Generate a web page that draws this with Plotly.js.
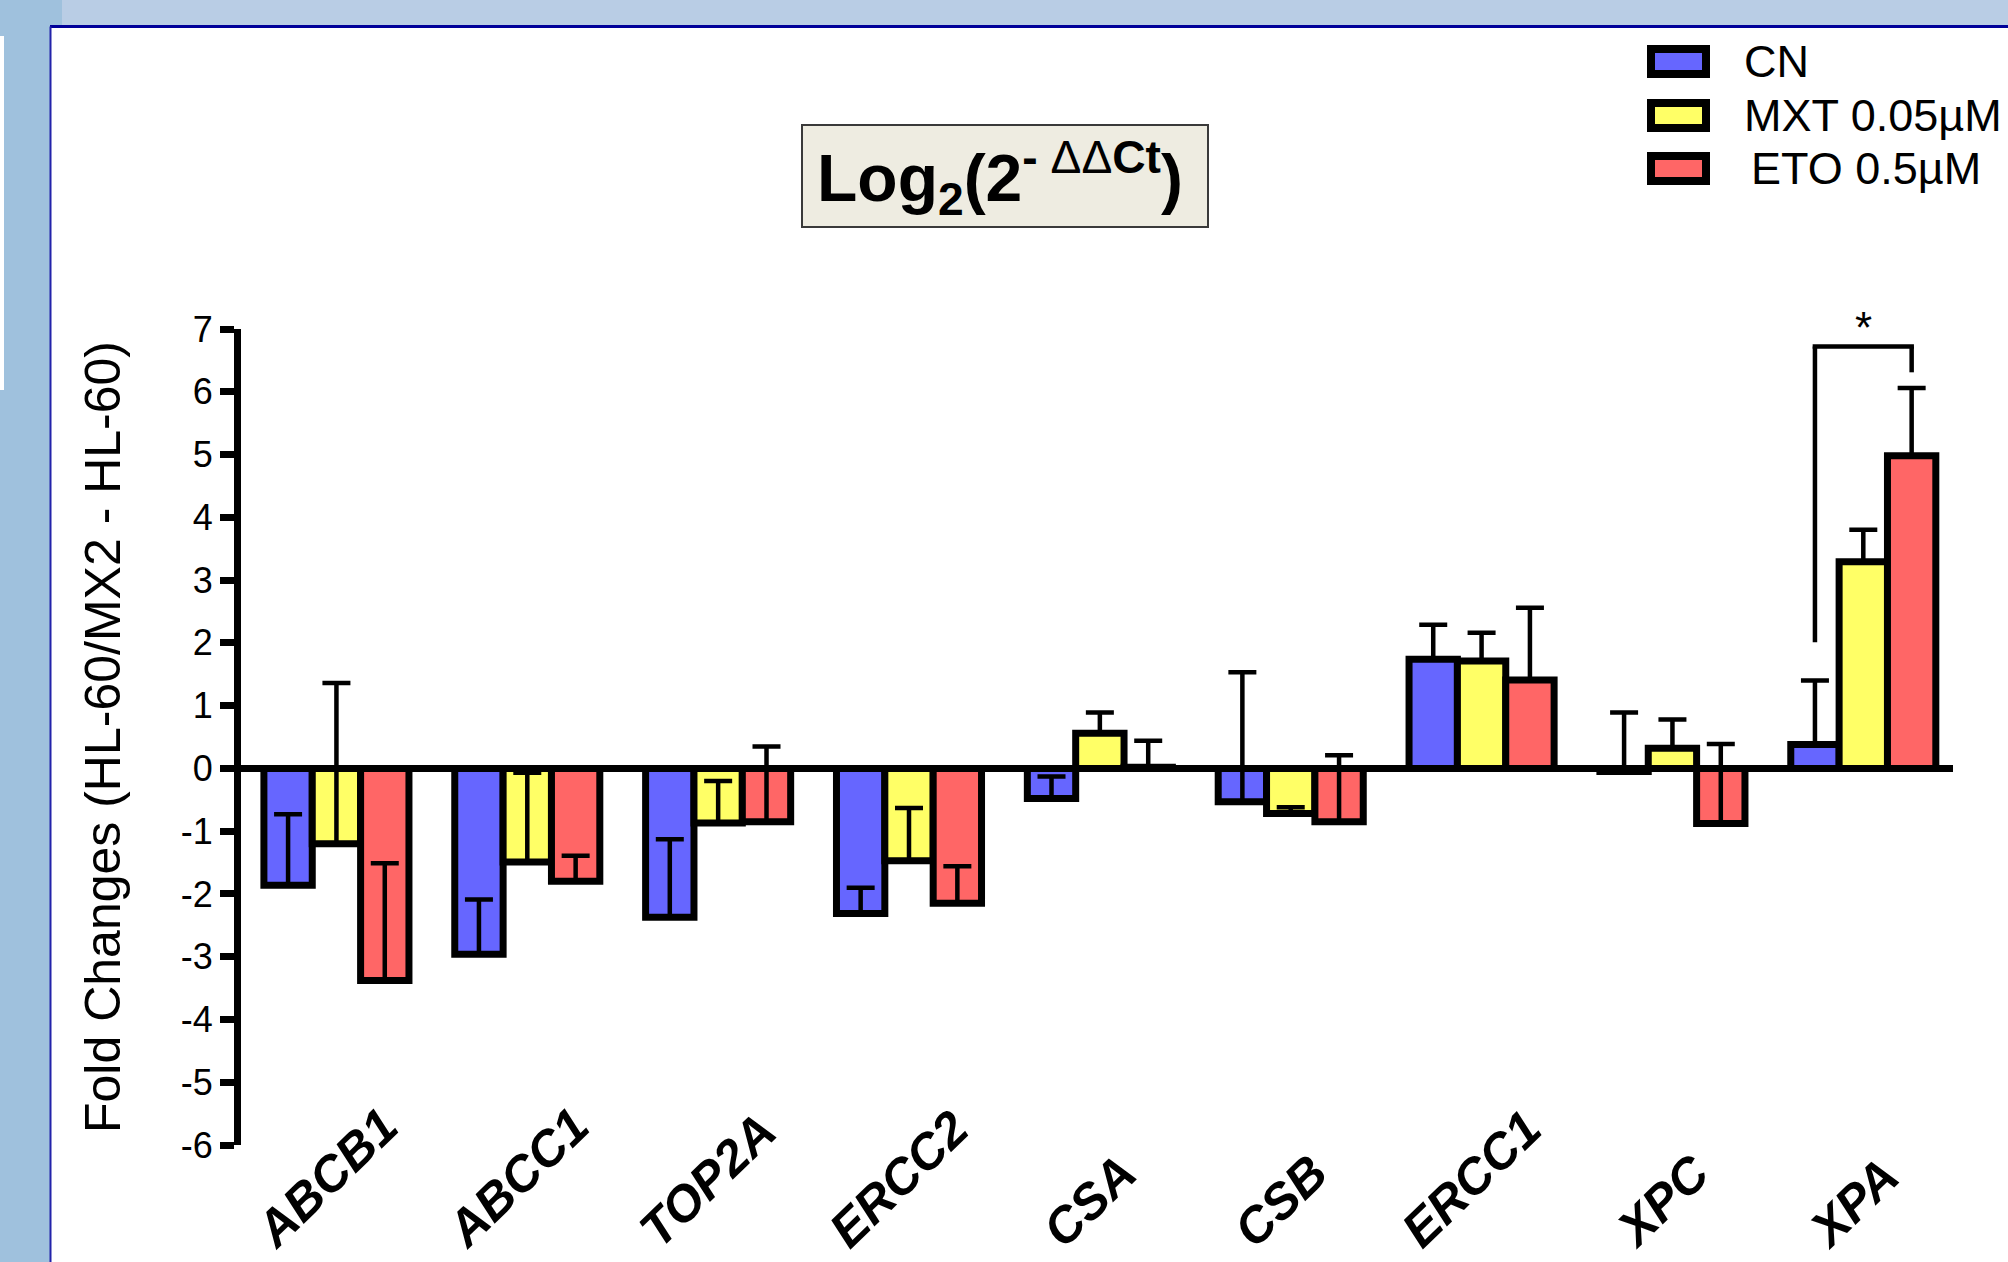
<!DOCTYPE html>
<html>
<head>
<meta charset="utf-8">
<script src="https://cdn.plot.ly/plotly-3.0.1.min.js"></script>
<style>
  html, body { margin: 0; padding: 0; background: #ffffff; }
  #chart { width: 2008px; height: 1262px; }
</style>
</head>
<body>
<div id="chart"></div>
<script>
// ---- data ----
const categories = ['ABCB1', 'ABCC1', 'TOP2A', 'ERCC2', 'CSA', 'CSB', 'ERCC1', 'XPC', 'XPA'];
const seriesNames = ['CN', 'MXT 0.05\u00b5M', 'ETO 0.5\u00b5M'];
const cnValues  = [-1.86, -2.96, -2.37, -2.31, -0.48, -0.53, 1.74, -0.05, 0.38];
const cnErr     = [ 1.13,  0.87,  1.24,  0.41,  0.35,  2.06, 0.55,  0.94, 1.02];
const mxtValues = [-1.20, -1.49, -0.87, -1.47,  0.56, -0.72, 1.71,  0.32, 3.29];
const mxtErr    = [ 2.56,  1.42,  0.67,  0.84,  0.33,  0.10, 0.45,  0.46, 0.51];
const etoValues = [-3.38, -1.80, -0.85, -2.15,  0.02, -0.85, 1.41, -0.88, 4.98];
const etoErr    = [ 1.87,  0.41,  1.20,  0.59,  0.42,  1.06, 1.15,  1.27, 1.08];
const yTickVals = [-6, -5, -4, -3, -2, -1, 0, 1, 2, 3, 4, 5, 6, 7];
const yTickText = ['-6', '-5', '-4', '-3', '-2', '-1', '0', '1', '2', '3', '4', '5', '6', '7'];
// significance bracket (XPA: CN vs ETO)
const sigCategoryIndex = 8;
const sigLeftLow = 2.01, sigTop = 6.72, sigRightLow = 6.31;

// ---- styles ----
const colors = ['#6666ff', '#ffff66', '#ff6666'];
const FONT = 'Liberation Sans, Arial, sans-serif';
const W = 2008, H = 1262;
const bargap = 0.24;
const barW = (1 - bargap) / 3;

const values = [cnValues, mxtValues, etoValues];
const errs = [cnErr, mxtErr, etoErr];

const traces = values.map((v, k) => ({
  type: 'bar',
  name: seriesNames[k],
  x: categories,
  y: v,
  marker: { color: colors[k], line: { color: '#000000', width: 7 } },
  error_y: {
    type: 'data', symmetric: false,
    array: errs[k], arrayminus: errs[k].map(() => 0),
    color: '#000000', thickness: 4.5, width: 14
  },
  showlegend: false,
  hoverinfo: 'x+y'
}));

const px = (x) => x / W;
const py = (y) => 1 - y / H;

const shapes = [
  // window frame
  { type: 'rect', xref: 'paper', yref: 'paper', x0: 0, x1: 1, y0: py(26), y1: 1, fillcolor: '#b9cde5', line: { width: 0 }, layer: 'below' },
  { type: 'rect', xref: 'paper', yref: 'paper', x0: 0, x1: px(62), y0: py(26), y1: 1, fillcolor: '#9fc1dd', line: { width: 0 }, layer: 'below' },
  { type: 'rect', xref: 'paper', yref: 'paper', x0: 0, x1: px(50), y0: 0, y1: 1, fillcolor: '#9fc1dd', line: { width: 0 }, layer: 'below' },
  { type: 'rect', xref: 'paper', yref: 'paper', x0: 0, x1: px(4), y0: py(390), y1: py(36), fillcolor: '#ffffff', line: { width: 0 }, layer: 'below' },
  { type: 'line', xref: 'paper', yref: 'paper', x0: px(50), x1: 1, y0: py(26.5), y1: py(26.5), line: { color: '#000099', width: 3 } },
  { type: 'line', xref: 'paper', yref: 'paper', x0: px(50.5), x1: px(50.5), y0: 0, y1: py(26.5), line: { color: '#2222aa', width: 2 } },
  // title box
  { type: 'rect', xref: 'paper', yref: 'paper', x0: px(802), x1: px(1208), y0: py(227), y1: py(125), fillcolor: '#eeece1', line: { color: '#3a3a3a', width: 2 } },
  // significance bracket
  { type: 'line', xref: 'x', yref: 'y', x0: sigCategoryIndex - barW, x1: sigCategoryIndex - barW, y0: sigLeftLow, y1: sigTop, line: { color: '#000', width: 4.5 } },
  { type: 'line', xref: 'x', yref: 'y', x0: sigCategoryIndex - barW - 0.012, x1: sigCategoryIndex + barW + 0.012, y0: sigTop, y1: sigTop, line: { color: '#000', width: 4.5 } },
  { type: 'line', xref: 'x', yref: 'y', x0: sigCategoryIndex + barW, x1: sigCategoryIndex + barW, y0: sigTop, y1: sigRightLow, line: { color: '#000', width: 4.5 } }
];

// manual legend
const legendTop = [49, 103, 156];
const legendTextX = [1742, 1742, 1749];
const annotations = [];
seriesNames.forEach((n, k) => {
  shapes.push({ type: 'rect', xref: 'paper', yref: 'paper', x0: px(1651), x1: px(1706), y0: py(legendTop[k] + 25), y1: py(legendTop[k]), fillcolor: colors[k], line: { color: '#000', width: 8 } });
  annotations.push({ xref: 'paper', yref: 'paper', x: px(legendTextX[k]), y: py(legendTop[k] + 12.5), xanchor: 'left', yanchor: 'middle', text: n, showarrow: false, font: { family: FONT, size: 45, color: '#000' } });
});

// title
annotations.push({
  xref: 'paper', yref: 'paper', x: px(1000), y: py(178), xanchor: 'center', yanchor: 'middle', showarrow: false,
  text: '<b>Log<sub>2</sub>(2<sup>- </sup></b><sup>\u0394\u0394</sup><b><sup>Ct</sup>)</b>',
  font: { family: FONT, size: 66, color: '#000' }
});

// category labels
categories.forEach((c) => {
  annotations.push({ xref: 'x', yref: 'paper', x: c, y: py(1261), xanchor: 'center', yanchor: 'bottom', textangle: -44, xshift: -10, showarrow: false,
    text: '<b><i>' + c + '</i></b>', font: { family: FONT, size: 50, color: '#000' } });
});

// significance star (placed just above the bracket, y in paper units)
annotations.push({ xref: 'x', yref: 'paper', x: sigCategoryIndex, y: py(328), xanchor: 'center', yanchor: 'middle', showarrow: false, text: '*', font: { family: FONT, size: 44, color: '#000' } });

const layout = {
  width: W, height: H,
  margin: { l: 0, r: 0, t: 0, b: 0 },
  paper_bgcolor: '#ffffff', plot_bgcolor: 'rgba(0,0,0,0)',
  barmode: 'group', bargap: bargap, bargroupgap: 0,
  showlegend: false,
  xaxis: {
    domain: [px(241), px(1953)],
    type: 'category',
    range: [-0.5, 8.47],
    showticklabels: false, ticks: '', showline: false, showgrid: false, zeroline: false
  },
  yaxis: {
    domain: [py(1145), py(329)],
    range: [-6, 7],
    tickvals: yTickVals, ticktext: yTickText,
    ticks: 'outside', ticklen: 14, tickwidth: 7, tickcolor: '#000',
    showline: true, linewidth: 7, linecolor: '#000',
    showgrid: false,
    zeroline: true, zerolinewidth: 7, zerolinecolor: '#000',
    tickfont: { family: FONT, size: 36, color: '#000' },
    title: { text: 'Fold Changes (HL-60/MX2 - HL-60)', standoff: 47, font: { family: FONT, size: 50, color: '#000' } }
  },
  shapes: shapes,
  annotations: annotations
};

Plotly.newPlot('chart', traces, layout, { staticPlot: true, displayModeBar: false });
</script>
</body>
</html>
